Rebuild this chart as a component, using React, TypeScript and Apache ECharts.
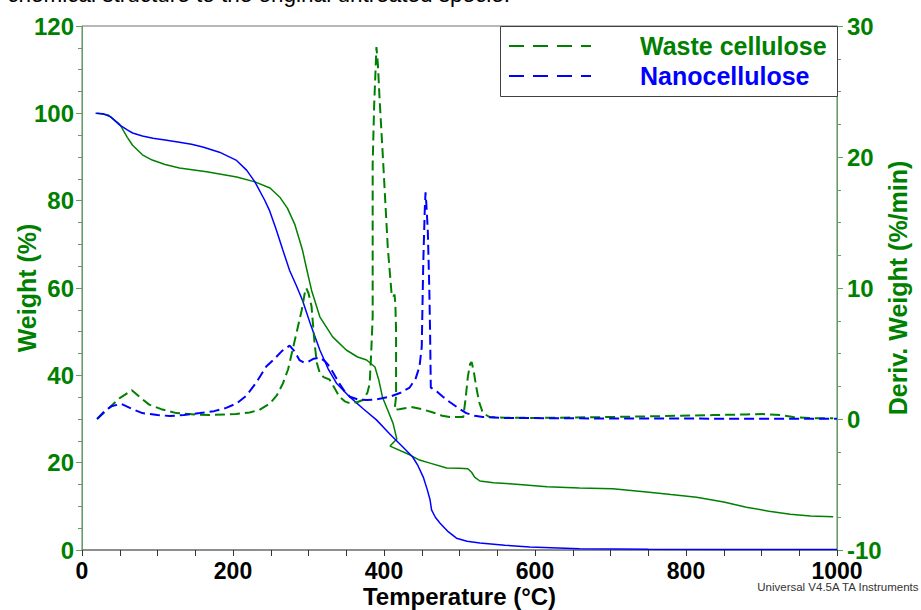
import React, { useEffect, useRef } from "react";
import * as echarts from "echarts";

// Temperature (°C) / Weight (%) pairs — TGA curves
const wasteTGA: number[][] = [
  [20, 100], [35, 99.6], [50, 97.5], [60, 94.5], [67, 92.7], [80, 90.5], [93, 89.3], [110, 88.3],
  [129, 87.5], [165, 86.6], [205, 85.4], [229, 84.3], [249, 82.9], [262, 80.8], [272, 78.3],
  [282, 74.5], [292, 68.7], [298, 64], [304, 59.5], [315, 53.4], [332, 48.8], [350, 45.8],
  [365, 44.2], [377, 43.5], [388, 41.9], [393, 39], [398, 35], [405, 32], [412, 29], [417, 25.4],
  [408, 23.8], [434, 21.8], [447, 20.6], [461, 19.9], [483, 18.8], [500, 18.7], [511, 18.6],
  [516, 17.8], [520, 16.7], [527, 15.8], [545, 15.4], [571, 15.1], [616, 14.5], [659, 14.2],
  [703, 14], [748, 13.3], [780, 12.7], [814, 12.1], [850, 11], [880, 9.8], [910, 8.9],
  [938, 8.2], [965, 7.8], [995, 7.6],
];

const nanoTGA: number[][] = [
  [18, 100], [28, 99.9], [38, 99.2], [50, 97.3], [60, 96.2], [67, 95.5], [80, 94.8], [94, 94.3],
  [110, 93.9], [129, 93.4], [145, 92.9], [160, 92.3], [182, 91.1], [204, 89.3], [218, 87],
  [229, 84.3], [242, 80.1], [248, 77.9], [257, 73.5], [266, 68.7], [275, 64], [284, 60.5],
  [292, 57.2], [303, 51.5], [315, 45.8], [326, 41.5], [337, 38.2], [355, 35], [372, 32.4],
  [390, 29.8], [408, 26.5], [425, 23.6], [438, 21.3], [445, 19.3], [452, 16.7], [457, 14],
  [461, 11.5], [463, 9.2], [468, 7.5], [474, 6.2], [485, 4.2], [496, 2.7], [510, 2], [527, 1.6],
  [560, 1.1], [593, 0.7], [659, 0.3], [750, 0.15], [850, 0.1], [1000, 0.1],
];

// Temperature (°C) / Deriv. Weight (%/min) pairs — DTG curves
const wasteDTG: number[][] = [
  [20, 0], [35, 0.8], [50, 1.6], [66, 2.2], [78, 1.6], [89, 1.1], [105, 0.75], [125, 0.45],
  [150, 0.35], [169, 0.3], [204, 0.38], [222, 0.5], [235, 0.7], [249, 1.2], [258, 1.8],
  [266, 2.7], [273, 3.8], [279, 5.3], [285, 6.8], [291, 8.3], [295, 9.6], [297, 10], [300, 9.6],
  [304, 8.6], [308, 5.8], [311, 4.3], [315, 3.5], [320, 3.2], [328, 3], [335, 2.3], [341, 1.7],
  [348, 1.35], [355, 1.2], [365, 1.3], [372, 1.45], [378, 2], [381, 2.7], [383, 5], [385, 7.8],
  [385, 12], [385, 19.5], [387, 24], [390, 28.4], [392, 27], [394, 24.6], [399, 19.5],
  [405, 13.1], [410, 9.6], [412, 9.3], [414, 9.5], [415, 8.8], [416, 6.8], [416, 3.5],
  [416, 1.7], [414, 0.7], [420, 0.75], [430, 0.85], [438, 0.9], [450, 0.75], [465, 0.5],
  [477, 0.25], [487, 0.15], [505, 0.15], [508, 1.5], [511, 3.2], [514, 4.2], [516, 4.35],
  [519, 3.6], [522, 2.5], [526, 1.3], [531, 0.45], [540, 0.15], [560, 0.1], [600, 0.08],
  [700, 0.15], [750, 0.2], [836, 0.3], [880, 0.35], [902, 0.38], [925, 0.3], [942, 0.15],
  [970, 0.05], [995, 0.05],
];

const nanoDTG: number[][] = [
  [20, 0], [30, 0.6], [40, 1.0], [52, 1.15], [65, 0.8], [80, 0.45], [100, 0.3], [116, 0.23],
  [135, 0.3], [156, 0.45], [175, 0.6], [191, 0.85], [205, 1.2], [218, 1.8], [231, 2.8],
  [244, 4], [255, 4.6], [265, 5.2], [275, 5.6], [281, 5.2], [288, 4.5], [294, 4.3], [299, 4.35],
  [307, 4.6], [315, 4.7], [322, 4.4], [328, 4], [335, 3.3], [341, 2.7], [348, 2.1], [355, 1.7],
  [365, 1.5], [377, 1.45], [390, 1.5], [408, 1.7], [422, 2], [434, 2.4], [442, 3.1], [447, 4],
  [450, 5.5], [452, 11.9], [454, 16], [455, 17.3], [456, 16.5], [458, 14.4], [460, 10],
  [461, 6.8], [462, 2.4], [470, 2.1], [478, 1.7], [487, 1.3], [498, 0.85], [509, 0.45],
  [520, 0.25], [531, 0.15], [560, 0.08], [650, 0.05], [800, 0.03], [1000, 0.02],
];

const legendNames = ["Waste cellulose", "Nanocellulose"];
const GREEN = "#008000";
const BLUE = "#0000ff";
const FONT = "'Liberation Sans', Arial, sans-serif";

export default function App() {
  const ref = useRef<HTMLDivElement>(null);

  useEffect(() => {
    if (!ref.current) return;
    const chart = echarts.init(ref.current, undefined, { renderer: "svg" });
    const axisLineGreen = { show: true, lineStyle: { color: "#5aa55a", width: 1 } };
    const labelGreen = { color: GREEN, fontSize: 24, fontWeight: "bold" as const, fontFamily: FONT };
    const solid = (name: string, data: number[][], color: string, yi: number) => ({
      type: "line", name, data, yAxisIndex: yi, symbol: "none", showSymbol: false,
      lineStyle: { color, width: 1.5 }, itemStyle: { color }, z: 2,
    });
    const dashed = (name: string, data: number[][], color: string, yi: number) => ({
      type: "line", name, data, yAxisIndex: yi, symbol: "none", showSymbol: false,
      lineStyle: { color, width: 2, type: [10, 5] }, itemStyle: { color }, z: 3,
    });
    chart.setOption({
      animation: false,
      backgroundColor: "#ffffff",
      textStyle: { fontFamily: FONT },
      grid: {
        left: 82, right: 84, top: 26, bottom: 60, show: true, borderColor: "#707070", borderWidth: 1,
        containLabel: false, outerBoundsMode: "none",
      },
      xAxis: {
        type: "value", min: 0, max: 1000, interval: 200,
        name: "Temperature (°C)", nameLocation: "middle", nameGap: 34, nameMoveOverlap: false,
        nameTextStyle: { color: "#000", fontSize: 24, fontWeight: "bold", fontFamily: FONT },
        axisLine: { show: true, lineStyle: { color: "#808080", width: 1.5 } },
        axisTick: { show: true, length: 6, lineStyle: { color: "#333" } },
        minorTick: { show: true, splitNumber: 4, length: 6, lineStyle: { color: "#333" } },
        axisLabel: {
          color: "#000", fontSize: 23, fontWeight: "bold", fontFamily: FONT, margin: 9,
          formatter: (v: number) => String(v),
        },
        splitLine: { show: false },
      },
      yAxis: [
        {
          type: "value", min: 0, max: 120, interval: 20, position: "left",
          name: "Weight (%)", nameLocation: "middle", nameGap: 43, nameRotate: 90, nameMoveOverlap: false,
          nameTextStyle: { color: GREEN, fontSize: 25, fontWeight: "bold", fontFamily: FONT },
          axisLine: axisLineGreen,
          axisTick: { show: true, length: 6, lineStyle: { color: "#5aa55a" } },
          minorTick: { show: true, splitNumber: 4, length: 4, lineStyle: { color: "#5aa55a" } },
          axisLabel: { ...labelGreen, margin: 8 },
          splitLine: { show: false },
        },
        {
          type: "value", min: -10, max: 30, interval: 10, position: "right",
          name: "Deriv. Weight (%/min)", nameLocation: "middle", nameGap: 48, nameRotate: 90,
          nameMoveOverlap: false,
          nameTextStyle: { color: GREEN, fontSize: 25, fontWeight: "bold", fontFamily: FONT },
          axisLine: axisLineGreen,
          axisTick: { show: true, length: 6, lineStyle: { color: "#5aa55a" } },
          minorTick: { show: true, splitNumber: 4, length: 4, lineStyle: { color: "#5aa55a" } },
          axisLabel: { ...labelGreen, margin: 10 },
          splitLine: { show: false },
        },
      ],
      series: [
        solid("Waste cellulose TGA", wasteTGA, GREEN, 0),
        solid("Nanocellulose TGA", nanoTGA, BLUE, 0),
        dashed(legendNames[0], wasteDTG, GREEN, 1),
        dashed(legendNames[1], nanoDTG, BLUE, 1),
      ],
      graphic: [
        {
          type: "text", right: 411, top: -17,
          style: {
            text: "chemical structure to the original untreated specie.",
            fill: "#000", fontSize: 22.5, fontFamily: FONT,
          },
        },
        {
          type: "rect", left: 500, top: 26, z: 10,
          shape: { x: 0, y: 0, width: 337, height: 70 },
          style: { fill: "#ffffff", stroke: "#404040", lineWidth: 1 },
        },
        {
          type: "line", z: 11,
          shape: { x1: 509, y1: 46, x2: 591, y2: 46 },
          style: { stroke: GREEN, lineWidth: 2, lineDash: [15, 9] },
        },
        {
          type: "line", z: 11,
          shape: { x1: 509, y1: 76, x2: 591, y2: 76 },
          style: { stroke: BLUE, lineWidth: 2, lineDash: [15, 9] },
        },
        {
          type: "text", left: 640, top: 33, z: 11,
          style: { text: legendNames[0], fill: GREEN, fontSize: 25, fontWeight: "bold", fontFamily: FONT },
        },
        {
          type: "text", left: 640, top: 63, z: 11,
          style: { text: legendNames[1], fill: BLUE, fontSize: 25, fontWeight: "bold", fontFamily: FONT },
        },
        {
          type: "text", right: 1, top: 581, z: 11,
          style: { text: "Universal V4.5A TA Instruments", fill: "#333", fontSize: 11.5, fontFamily: FONT },
        },
      ],
    });
    return () => chart.dispose();
  }, []);

  return (
    <div
      ref={ref}
      style={{ position: "fixed", left: 0, top: 0, width: 921, height: 610, background: "#fff" }}
    />
  );
}
